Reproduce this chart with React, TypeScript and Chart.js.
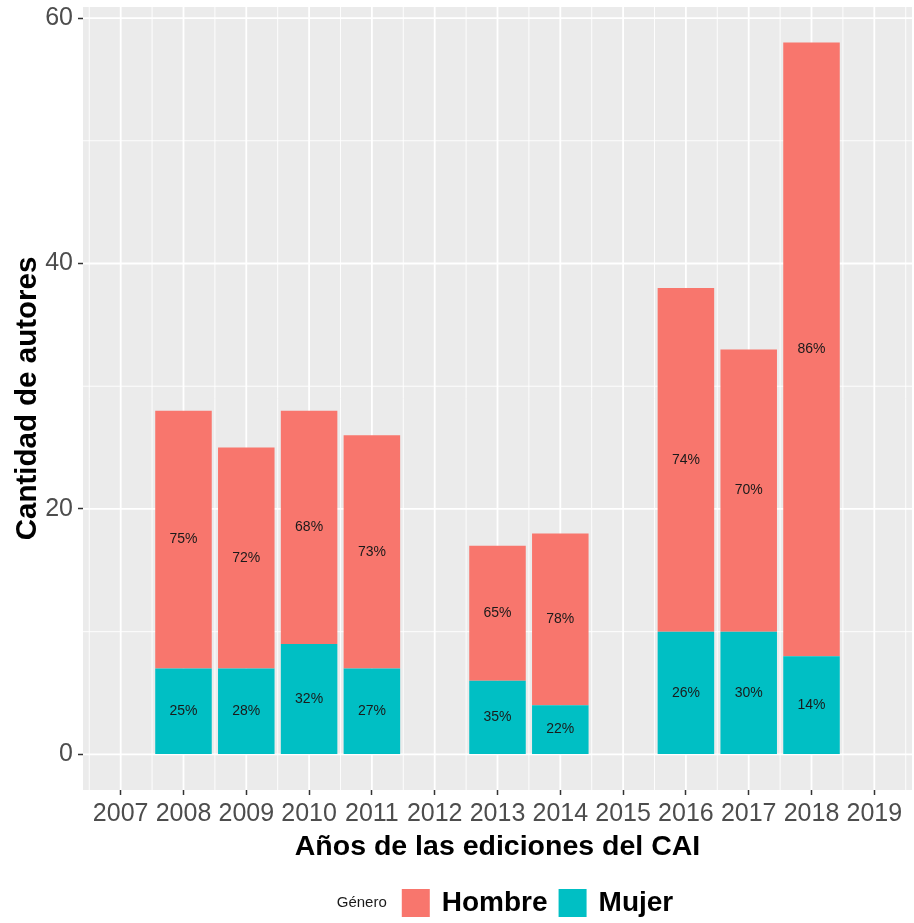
import React, { useEffect, useRef } from 'react';
import { Chart, registerables } from 'chart.js';

Chart.register(...registerables);

const years = [2008, 2009, 2010, 2011, 2013, 2014, 2016, 2017, 2018];
const axisYears = [2007, 2008, 2009, 2010, 2011, 2012, 2013, 2014, 2015, 2016, 2017, 2018, 2019];
const hombre = [21, 18, 19, 19, 11, 14, 28, 23, 50];
const mujer = [7, 7, 9, 7, 6, 4, 10, 10, 8];
const hombrePct = ['75%', '72%', '68%', '73%', '65%', '78%', '74%', '70%', '86%'];
const mujerPct = ['25%', '28%', '32%', '27%', '35%', '22%', '26%', '30%', '14%'];
const yTicks = [0, 20, 40, 60];
const yMinor = [10, 30, 50];
const seriesNames = ['Hombre', 'Mujer'];
const seriesColors = ['#F8766D', '#00BFC4'];
const legendTitle = 'Género';
const xTitle = 'Años de las ediciones del CAI';
const yTitle = 'Cantidad de autores';

const FAMILY = '"Liberation Sans", Arial, sans-serif';

const panelPlugin = {
  id: 'panel',
  beforeDraw(chart: any) {
    const { ctx, chartArea: a, scales } = chart;
    const x = scales.x;
    const y = scales.y;
    ctx.save();
    ctx.fillStyle = '#EBEBEB';
    ctx.fillRect(a.left, a.top, a.right - a.left, a.bottom - a.top);
    ctx.strokeStyle = '#FFFFFF';
    ctx.lineWidth = 0.9;
    const minorX = [axisYears[0] - 0.5, ...axisYears.map((v) => v + 0.5)];
    minorX.forEach((v) => {
      const px = x.getPixelForValue(v);
      if (px < a.left || px > a.right) return;
      ctx.beginPath();
      ctx.moveTo(px, a.top);
      ctx.lineTo(px, a.bottom);
      ctx.stroke();
    });
    yMinor.forEach((v) => {
      const py = y.getPixelForValue(v);
      ctx.beginPath();
      ctx.moveTo(a.left, py);
      ctx.lineTo(a.right, py);
      ctx.stroke();
    });
    ctx.lineWidth = 1.8;
    axisYears.forEach((v) => {
      const px = x.getPixelForValue(v);
      ctx.beginPath();
      ctx.moveTo(px, a.top);
      ctx.lineTo(px, a.bottom);
      ctx.stroke();
    });
    yTicks.forEach((v) => {
      const py = y.getPixelForValue(v);
      ctx.beginPath();
      ctx.moveTo(a.left, py);
      ctx.lineTo(a.right, py);
      ctx.stroke();
    });
    ctx.restore();
  },
  afterDatasetsDraw(chart: any) {
    const { ctx } = chart;
    ctx.save();
    ctx.fillStyle = '#1A1A1A';
    ctx.font = `14px ${FAMILY}`;
    ctx.textAlign = 'center';
    ctx.textBaseline = 'middle';
    chart.data.datasets.forEach((ds: any, di: number) => {
      const meta = chart.getDatasetMeta(di);
      meta.data.forEach((el: any, i: number) => {
        const lbl = ds.pctLabels[i];
        ctx.fillText(lbl, el.x, (el.y + el.base) / 2);
      });
    });
    ctx.restore();
  },
  afterDraw(chart: any) {
    const { ctx } = chart;
    ctx.save();
    const cy = 903;
    const box = 28;
    ctx.textBaseline = 'middle';
    ctx.textAlign = 'left';
    ctx.font = `15px ${FAMILY}`;
    const wTitle = ctx.measureText(legendTitle).width;
    ctx.font = `bold 28px ${FAMILY}`;
    const wH = ctx.measureText(seriesNames[0]).width;
    const wM = ctx.measureText(seriesNames[1]).width;
    const total = wTitle + 15 + box + 12 + wH + 11 + box + 12 + wM;
    let cx = 505 - total / 2;
    ctx.fillStyle = '#1A1A1A';
    ctx.font = `15px ${FAMILY}`;
    ctx.fillText(legendTitle, cx, cy);
    cx += wTitle + 15;
    ctx.fillStyle = seriesColors[0];
    ctx.fillRect(cx, cy - box / 2, box, box);
    cx += box + 12;
    ctx.fillStyle = '#000000';
    ctx.font = `bold 28px ${FAMILY}`;
    ctx.fillText(seriesNames[0], cx, cy);
    cx += wH + 11;
    ctx.fillStyle = seriesColors[1];
    ctx.fillRect(cx, cy - box / 2, box, box);
    cx += box + 12;
    ctx.fillStyle = '#000000';
    ctx.fillText(seriesNames[1], cx, cy);
    ctx.restore();
  },
};

export default function App() {
  const ref = useRef<HTMLCanvasElement | null>(null);
  useEffect(() => {
    if (!ref.current) return;
    const chart = new Chart(ref.current, {
      type: 'bar',
      data: {
        datasets: [
          {
            label: seriesNames[1],
            data: years.map((yr, i) => ({ x: yr, y: mujer[i] })),
            backgroundColor: seriesColors[1],
            barPercentage: 1,
            categoryPercentage: 0.9,
            pctLabels: mujerPct,
          } as any,
          {
            label: seriesNames[0],
            data: years.map((yr, i) => ({ x: yr, y: hombre[i] })),
            backgroundColor: seriesColors[0],
            barPercentage: 1,
            categoryPercentage: 0.9,
            pctLabels: hombrePct,
          } as any,
        ],
      },
      options: {
        animation: false,
        responsive: false,
        layout: { padding: { top: 7, right: 2, bottom: 59, left: 0 } },
        plugins: { legend: { display: false }, tooltip: { enabled: false } },
        scales: {
          x: {
            type: 'linear',
            stacked: true,
            offset: false,
            min: 2006.4,
            max: 2019.6,
            afterBuildTicks: (s: any) => {
              s.ticks = axisYears.map((v) => ({ value: v }));
            },
            afterFit: (s: any) => {
              s.height = 74;
              s.paddingLeft = 0;
              s.paddingRight = 0;
            },
            grid: { offset: false, drawOnChartArea: false, drawTicks: true, tickLength: 5, tickColor: '#333333', tickWidth: 1.5 },
            border: { display: false },
            ticks: {
              callback: (v: any) => String(v),
              color: '#4D4D4D',
              font: { family: FAMILY, size: 25 },
              padding: 4,
              maxRotation: 0,
              autoSkip: false,
            },
            title: {
              display: true,
              text: xTitle,
              color: '#000000',
              font: { family: FAMILY, size: 28.5, weight: 'bold' },
              padding: { top: 0, bottom: 0 },
            },
          } as any,
          y: {
            type: 'linear',
            stacked: true,
            min: -2.9,
            max: 60.9,
            afterBuildTicks: (s: any) => {
              s.ticks = yTicks.map((v) => ({ value: v }));
            },
            afterFit: (s: any) => {
              s.width = 83;
              s.paddingTop = 0;
              s.paddingBottom = 0;
            },
            grid: { drawOnChartArea: false, drawTicks: true, tickLength: 5, tickColor: '#333333', tickWidth: 1.5 },
            border: { display: false },
            ticks: {
              callback: (v: any) => String(v),
              color: '#4D4D4D',
              font: { family: FAMILY, size: 25 },
              padding: 5,
            },
            title: {
              display: true,
              text: yTitle,
              color: '#000000',
              font: { family: FAMILY, size: 29.5, weight: 'bold' },
              padding: { top: 10, bottom: 0 },
            },
          } as any,
        },
      },
      plugins: [panelPlugin],
    });
    return () => chart.destroy();
  }, []);
  return (
    <div style={{ position: 'absolute', left: 0, top: 0 }}>
      <canvas ref={ref} width={914} height={923} style={{ display: 'block', width: 914, height: 923 }} />
    </div>
  );
}
